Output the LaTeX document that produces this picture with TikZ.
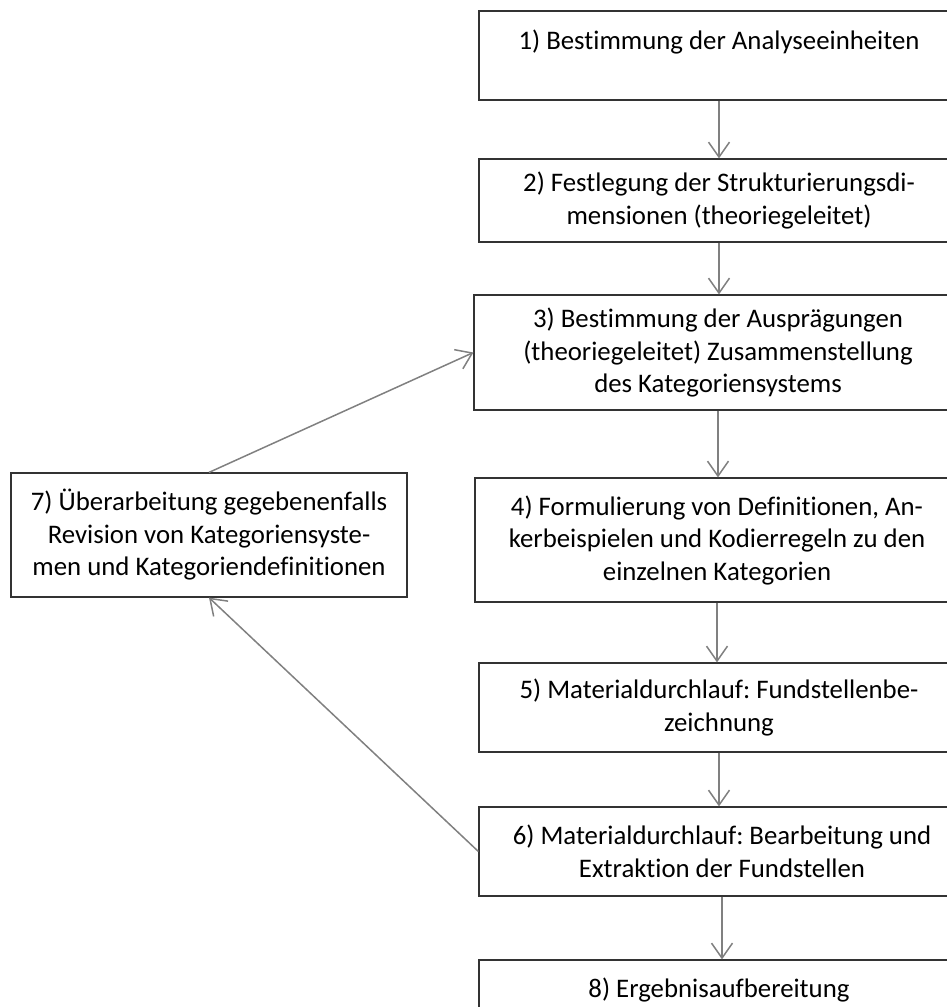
\documentclass[tikz,border=0pt]{standalone}
\usepackage{fontspec}
\setmainfont[Ligatures=NoCommon]{Carlito}
\frenchspacing
\usetikzlibrary{arrows.meta}

\begin{document}
\begin{tikzpicture}[x=1pt, y=-1pt,
  stufe/.style={rectangle, draw=black!80, line width=1.2pt, fill=white,
                align=center, inner sep=0pt, font=\fontsize{26.8}{32.5}\selectfont},
  pfeil/.style={-{Straight Barb[length=15pt, width=21pt]}, draw=black!50, line width=1.5pt}]

\useasboundingbox (0,0) rectangle (947,1007);

% Hauptablauf
\node[stufe, minimum width=480pt, minimum height=89pt] (s1) at (719,55.5) {
  1) Bestimmung der Analyseeinheiten\\ \mbox{}
};

\node[stufe, minimum width=480pt, minimum height=83pt] (s2) at (719,200.5) {
  2) Festlegung der Strukturierungsdi-\\
  mensionen (theoriegeleitet)
};

\node[stufe, minimum width=488pt, minimum height=115pt] (s3) at (718,352.5) {
  3) Bestimmung der Ausprägungen\\
  (theoriegeleitet) Zusammenstellung\\
  des Kategoriensystems
};

\node[stufe, minimum width=484pt, minimum height=124pt] (s4) at (717,540) {
  4) Formulierung von Definitionen, An-\\
  kerbeispielen und Kodierregeln zu den\\
  einzelnen Kategorien
};

\node[stufe, minimum width=480pt, minimum height=89pt] (s5) at (719,707.5) {
  5) Materialdurchlauf: Fundstellenbe-\\
  zeichnung
};

\node[stufe, minimum width=486pt, minimum height=89pt] (s6) at (722,851.5) {
  6) Materialdurchlauf: Bearbeitung und\\
  Extraktion der Fundstellen
};

\node[stufe, minimum width=486pt, minimum height=60pt] (s8) at (722,990) {
  8) Ergebnisaufbereitung
};

% Rueckkopplung
\node[stufe, minimum width=396pt, minimum height=124pt] (s7) at (209,535) {
  7) Überarbeitung gegebenenfalls\\
  Revision von Kategoriensyste-\\
  men und Kategoriendefinitionen
};

% Pfeile
\draw[pfeil] (s1.south) -- (s2.north);
\draw[pfeil] (s2.south) -- (s2.south |- s3.north);
\draw[pfeil] (s3.south) -- (s3.south |- s4.north);
\draw[pfeil] (s4.south) -- (s4.south |- s5.north);
\draw[pfeil] (s5.south) -- (s5.south |- s6.north);
\draw[pfeil] (s6.south) -- (s8.north);
\draw[pfeil] (s6.west) -- (s7.south);
\draw[pfeil] (s7.north) -- (s3.west);

\end{tikzpicture}
\end{document}
